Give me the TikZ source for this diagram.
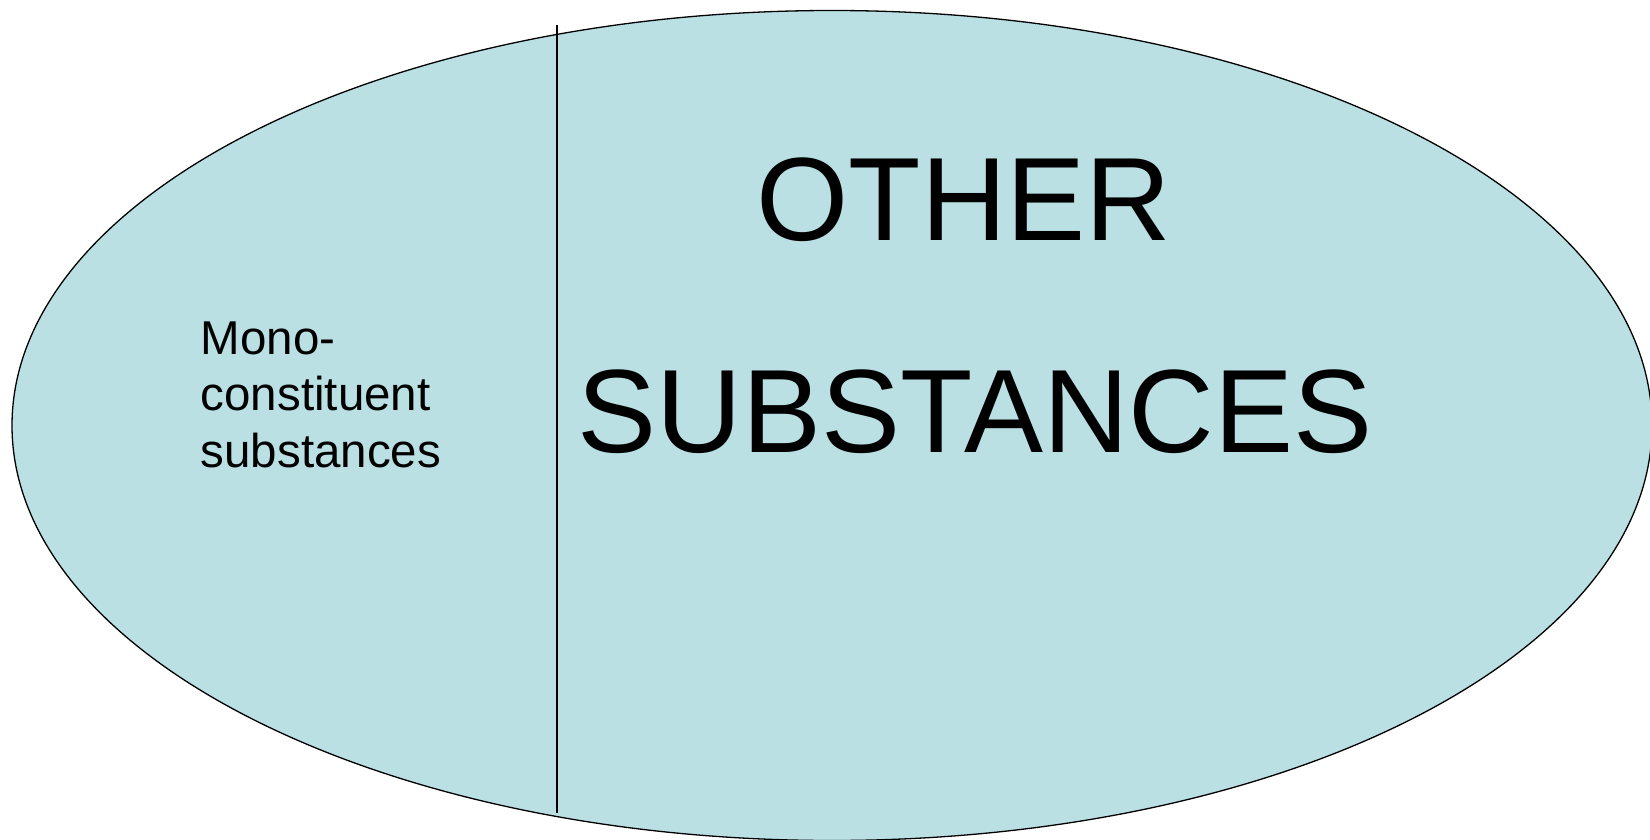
\documentclass[tikz,border=0pt]{standalone}
\usepackage{fontspec}
\setmainfont{Liberation Sans}
\usetikzlibrary{positioning}
\definecolor{setfill}{RGB}{186,224,228}
\tikzset{
  setshape/.style={draw, line width=1.3pt, fill=setfill},
  divider/.style={draw, line width=1.6pt},
  bigtext/.style={inner sep=0pt, anchor=base, font=\fontsize{118.5}{142}\selectfont},
  smalltext/.style={inner sep=0pt, anchor=base west, align=left, font=\fontsize{47.5}{56.5}\selectfont}
}
\begin{document}
\begin{tikzpicture}[x=1pt, y=-1pt]
  \useasboundingbox (0,0) rectangle (1650,840);
  % the whole set of substances
  \path[setshape] (832,425.5) ellipse [x radius=820, y radius=415];
  \coordinate (divtop) at (557,25);
  \coordinate (divbot) at (557,813);
  \draw[divider] (divtop) -- (divbot);
  \node[smalltext] (mono) at (200.6,467) {Mono-\\constituent\\substances};
  \node[bigtext] (other) at (964,240) {OTHER};
  \node[bigtext] (subst) at (975,452.5) {SUBSTANCES};
\end{tikzpicture}
\end{document}
